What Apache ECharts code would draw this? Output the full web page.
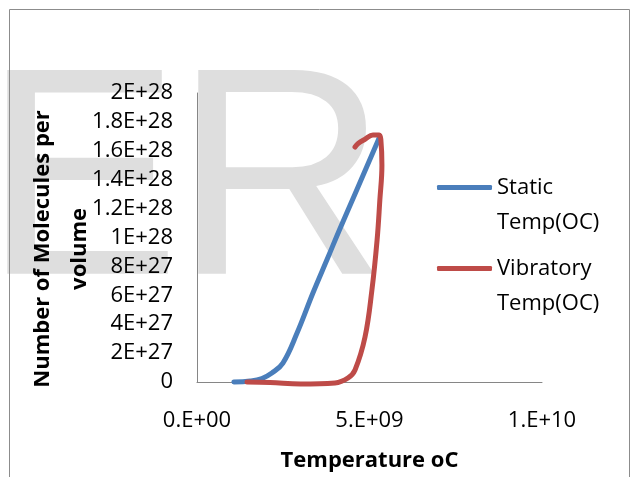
<!DOCTYPE html>
<html>
<head>
<meta charset="utf-8">
<script src="https://cdn.jsdelivr.net/npm/echarts@6/dist/echarts.min.js"></script>
<style>
  html, body { margin: 0; padding: 0; background: #fff; }
  #main { width: 633px; height: 477px; }
</style>
</head>
<body>
<div id="main"></div>
<script>
// 数据：温度 (oC) 与 单位体积分子数
var staticTemp = [1.07e9, 1.54e9, 1.88e9, 2.17e9, 2.49e9, 2.90e9, 3.36e9, 3.80e9, 4.14e9, 4.58e9, 5.28e9];
var staticCount = [0, 0.07e27, 0.24e27, 0.62e27, 1.31e27, 3.39e27, 6.16e27, 8.65e27, 10.59e27, 13.01e27, 16.89e27];

var vibTemp = [1.45e9, 2.12e9, 3.0e9, 4.0e9, 4.38e9, 4.58e9, 4.87e9, 5.07e9, 5.22e9, 5.30e9, 5.36e9, 5.33e9, 5.28e9, 5.10e9, 4.87e9, 4.67e9, 4.58e9];
var vibCount = [0, -0.03e27, -0.14e27, -0.07e27, 0.28e27, 0.83e27, 3.11e27, 6.37e27, 9.83e27, 12.6e27, 15.0e27, 16.75e27, 17.1e27, 17.1e27, 16.8e27, 16.5e27, 16.26e27];

var seriesNames = ['Static Temp(OC)', 'Vibratory Temp(OC)'];
var legendLabels = ['\nStatic\nTemp(OC)', '\nVibratory\nTemp(OC)'];
var xTickLabels = ['0.E+00', '5.E+09', '1.E+10'];
var yTickLabels = ['0', '2E+27', '4E+27', '6E+27', '8E+27', '1E+28', '1.2E+28', '1.4E+28', '1.6E+28', '1.8E+28', '2E+28'];

function pairs(xs, ys) {
  return xs.map(function (x, i) { return [x, ys[i]]; });
}

var chart = echarts.init(document.getElementById('main'));
var font = '"Open Sans", Lato, sans-serif';
var markFont = '296px "Liberation Sans", Arial, sans-serif';

var legendText = {
  fontFamily: font,
  fontSize: 22,
  color: '#000',
  lineHeight: 35
};

function legendFor(i, top) {
  return {
    data: [seriesNames[i]],
    left: 437, top: top, padding: 0,
    orient: 'vertical',
    icon: 'roundRect',
    itemWidth: 55, itemHeight: 5,
    formatter: function () { return legendLabels[i]; },
    textStyle: legendText
  };
}

var option = {
  backgroundColor: '#fff',
  animation: false,
  graphic: [
    // 背景水印
    {
      type: 'text', z: -10, silent: true,
      style: { text: 'E', x: -17, y: 340, verticalAlign: 'bottom', font: markFont, fill: '#dedede' }
    },
    {
      type: 'text', z: -10, silent: true,
      style: { text: 'R', x: 174, y: 340, verticalAlign: 'bottom', font: markFont, fill: '#dedede' }
    },
    {
      type: 'rect', z: -5, silent: true,
      shape: { x: 9.5, y: 9.5, width: 620, height: 500 },
      style: { fill: 'none', stroke: '#8c8c8c', lineWidth: 1 }
    }
  ],
  grid: { left: 197, right: 91, top: 93, bottom: 95, containLabel: false },
  legend: [legendFor(0, 135), legendFor(1, 216)],
  xAxis: {
    type: 'value',
    min: 0, max: 1e10, interval: 5e9,
    name: 'Temperature oC',
    nameLocation: 'middle',
    nameGap: 68,
    nameTextStyle: { fontFamily: font, fontSize: 22, fontWeight: 'bold', color: '#000' },
    axisLine: { lineStyle: { color: '#868686', width: 1 } },
    axisTick: { show: false },
    splitLine: { show: false },
    axisLabel: {
      margin: 28,
      fontFamily: font, fontSize: 22, color: '#000',
      formatter: function (v) { return xTickLabels[Math.round(v / 5e9)]; }
    }
  },
  yAxis: {
    type: 'value',
    min: 0, max: 2e28, interval: 2e27,
    // 末尾空格让标题略向下偏移
    name: 'Number of Molecules per    \nvolume    ',
    nameLocation: 'middle',
    nameRotate: 90,
    nameGap: 99,
    nameMoveOverlap: false,
    nameTextStyle: {
      fontFamily: font, fontSize: 22, fontWeight: 'bold', color: '#000',
      lineHeight: 37
    },
    axisLine: { show: true, lineStyle: { color: '#868686', width: 1 } },
    axisTick: { show: false },
    splitLine: { show: false },
    axisLabel: {
      margin: 24,
      fontFamily: font, fontSize: 22, color: '#000',
      formatter: function (v) { return yTickLabels[Math.round(v / 2e27)]; }
    }
  },
  series: [
    {
      name: seriesNames[0],
      type: 'line',
      data: pairs(staticTemp, staticCount),
      smooth: 0.4,
      symbol: 'none',
      clip: false,
      color: '#4a7ebb',
      lineStyle: { width: 5, color: '#4a7ebb', cap: 'round', join: 'round' }
    },
    {
      name: seriesNames[1],
      type: 'line',
      data: pairs(vibTemp, vibCount),
      smooth: 0.4,
      symbol: 'none',
      clip: false,
      color: '#be4b48',
      lineStyle: { width: 5, color: '#be4b48', cap: 'round', join: 'round' }
    }
  ]
};

chart.setOption(option);
</script>
</body>
</html>
